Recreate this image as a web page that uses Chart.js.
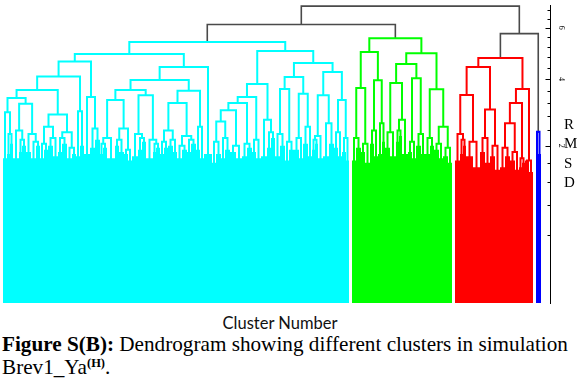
<!DOCTYPE html>
<html>
<head>
<meta charset="utf-8">
<script src="https://cdn.jsdelivr.net/npm/chart.js@4.4.1/dist/chart.umd.min.js"></script>
<style>
  html, body { margin: 0; padding: 0; background: #fff; }
  body { width: 578px; height: 385px; position: relative; overflow: hidden; }
  #wrap { position: absolute; left: 0; top: 0; width: 578px; height: 310px; }
  .xt { position: absolute; left: 180px; width: 200px; top: 315px; text-align: center;
        font-family: Lato, "Open Sans", sans-serif; font-size: 16.5px; line-height: 16px; color: #111; }
  .rmsd { position: absolute; left: 564px; top: 115px; font-family: "Liberation Serif", "Times New Roman", serif;
          font-size: 15px; line-height: 19.4px; color: #000; }
  .cap { position: absolute; left: 2px; top: 333px; width: 590px; font-family: "Liberation Serif", "Times New Roman", serif;
         font-size: 21.2px; line-height: 23px; color: #000; white-space: nowrap; }
  .cap sup { font-size: 12.5px; font-weight: bold; vertical-align: 7px; line-height: 0; }
</style>
</head>
<body>
<div id="wrap"><canvas id="c"></canvas></div>
<div class="xt">Cluster Number</div>
<div class="rmsd">R<br>M<br>S<br>D</div>
<div class="cap"><b>Figure S(B):</b> Dendrogram showing different clusters in simulation<br>Brev1_Ya<sup>(H)</sup>.</div>
<script>
// ---------------- DATA ----------------
// Trees: internal node = [left, right, mergeRMSD]; leaf group = [leafCount, topRMSD]
const cyanTree = [
  [
    [
      [
        [
          [[4,1.7],[[3,1.8],[3,2.05],2.3],2.92],
          [[[6,1.7],[[3,1.85],[4,2.0],2.15],2.4],[[5,1.85],[[5,1.7],[4,2.0],2.1],2.3],3.18],
          3.36
        ],
        [[[[4,1.7],[4,1.9],2.05],[[5,2.0],[5,1.75],2.2],2.5],[[[4,1.85],[5,2.05],2.2],[[5,1.7],[4,1.8],1.95],2.35],2.85],
        3.62
      ],
      [[4,1.75],[4,2.0],2.95],
      4.09
    ],
    [[6,1.8],[[5,1.95],[5,2.15],2.45],3.39],
    4.64
  ],
  [
    [
      [
        [[[[3,1.8],[4,1.95],2.05],[8,1.7],2.2],[[[4,2.0],[5,1.85],2.15],[[4,1.8],[4,1.65],1.9],2.45],3.3],
        [[[6,1.75],[[4,1.9],[4,2.1],2.2],2.3],[[7,1.7],[[3,1.85],[4,1.95],2.05],2.15],3.45],
        3.62
      ],
      [
        [[[[4,1.8],[4,1.95],2.1],[[5,2.0],[4,1.85],2.15],2.4],[[[5,1.7],[5,1.9],2.0],[[4,1.85],[5,2.05],2.15],2.25],3.2],
        [[4,1.9],[4,1.7],2.5],
        3.6
      ],
      3.97
    ],
    [8,1.8],
    4.43
  ],
  4.93
];
const cyanTreeRight = [
  [
    [
      [
        [
          [[[4,1.6],[5,1.8],2.1],[[4,1.7],[5,1.9],2.2],2.65],
          [[6,1.85],[6,1.7],2.0],
          2.98
        ],
        [[5,1.75],[5,1.95],2.05],
        3.2
      ],
      [[4,1.85],[5,1.7],2.15],
      3.39
    ],
    [[6,1.75],[[4,1.95],[4,2.2],2.35],2.7],
    3.83
  ],
  [
    [
      [[[5,1.75],[5,2.0],2.3],[[4,1.65],[5,1.9],2.1],3.66],
      [[[5,1.9],[4,1.7],2.2],[[5,2.05],[4,1.75],2.5],3.5],
      4.07
    ],
    [
      [[[[3,1.9],[3,2.05],2.15],[5,1.7],2.25],[[6,1.75],[5,2.05],2.6],3.45],
      [[[4,1.95],[4,1.75],2.35],[[4,1.85],[3,1.65],2.2],3.3],
      4.25
    ],
    4.58
  ],
  5.04
];
const cyanRootRMSD = 5.40;

const greenTree = [
  [
    [[[4,1.65],[5,1.95],2.2],[[4,1.85],[5,1.6],2.05],3.69],
    [[[4,2.05],[4,1.75],2.4],[[4,1.8],[3,2.1],2.6],3.96],
    5.0
  ],
  [
    [
      [[[5,1.95],[6,1.75],2.35],[[[3,2.1],[3,2.25],2.4],[6,1.8],2.7],3.86],
      [[[4,1.85],[4,1.7],2.1],[[5,2.0],[4,1.8],2.3],4.03],
      4.54
    ],
    [
      [[5,1.8],[4,2.0],2.2],
      [[[5,1.9],[4,1.7],2.05],[[5,1.75],[4,1.6],1.95],2.5],
      3.65
    ],
    4.96
  ],
  5.56
];

const redTree = [
  [
    [[[5,1.65],[[3,1.8],[3,2.0],2.15],2.3],[[7,1.75],[7,1.5],2.1],3.46],
    [[[5,1.85],[5,1.6],2.2],[[5,1.75],[5,1.45],2.0],3.0],
    4.43
  ],
  [
    [[[[5,1.5],[5,1.75],1.95],[[5,1.65],[4,1.45],1.85],2.6],[[3,1.5],[3,1.6],1.7],3.2],
    [[4,1.65],[4,1.4],1.65],
    3.66
  ],
  4.77
];

const blueTree = [[2,1.55],[3,1.8],2.36];

// upper (grey) merges: cyan+green, red+blue, root
const upperMerges = [6.14, 5.75, 6.97];

// RMSD axis
const rmsdTicks = [0.4,0.8,1.2,1.6,2.0,2.4,2.8,3.2,3.6,4.0,4.4,4.8,5.2,5.6,6.0,6.4,6.8];
const labeledTicks = [2, 4, 6];
const rmsdRange = [0.0012, 7.02];

// ---------------- STYLE / LAYOUT ----------------
const clusterColors = ['#00ffff', '#00ff00', '#ff0000', '#0000ff'];
const greyColor = '#4a4a4a';
const startLeaf = 3, clusterGap = 3, lineW = 2;

// --------------- sqrt RMSD scale -----------------
class SqrtScale extends Chart.LinearScale {
  static id = 'sqrt';
  buildTicks() { return rmsdTicks.map(v => ({ value: v })); }
  getPixelForValue(value) {
    if (value === null || value === undefined || isNaN(value)) return NaN;
    const a = Math.sqrt(this.min), b = Math.sqrt(this.max);
    return this.getPixelForDecimal((Math.sqrt(Math.max(0, value)) - a) / (b - a));
  }
  getValueForPixel(pixel) {
    const a = Math.sqrt(this.min), b = Math.sqrt(this.max);
    const s = a + this.getDecimalForPixel(pixel) * (b - a);
    return s * s;
  }
}
Chart.register(SqrtScale);

// --------------- layout of tree ------------------
let pos = startLeaf;
function place(node, out) {
  if (!Array.isArray(node[0])) {
    const x0 = pos, x1 = pos + node[0];
    pos = x1;
    out.blocks.push([x0, x1, node[1]]);
    return { x: (x0 + x1) / 2, h: node[1] };
  }
  const L = place(node[0], out), R = place(node[1], out);
  out.links.push([L.x, L.h, R.x, R.h, node[2]]);
  return { x: (L.x + R.x) / 2, h: node[2] };
}
function linkPoints(links) {
  const pts = [];
  for (const [xl, hl, xr, hr, h] of links) {
    pts.push({x: xl, y: hl}, {x: xl, y: h}, {x: xr, y: h}, {x: xr, y: hr}, {x: xr, y: null});
  }
  return pts;
}
function blockPoints(blocks) {
  const pts = [];
  for (const [x0, x1, h] of blocks) pts.push({x: x0, y: h}, {x: x1, y: h});
  return pts;
}

const fullTrees = [
  [cyanTree, cyanTreeRight, cyanRootRMSD],
  greenTree, redTree, blueTree
];
const roots = [];
const datasets = [];
fullTrees.forEach((tree, i) => {
  const out = { links: [], blocks: [] };
  const r = place(tree, out);
  roots.push(r);
  pos += clusterGap;
  datasets.push({
    data: linkPoints(out.links), borderColor: clusterColors[i], borderWidth: lineW,
    pointRadius: 0, fill: false, spanGaps: false, tension: 0,
    borderCapStyle: 'square', borderJoinStyle: 'miter'
  });
  datasets.push({
    data: blockPoints(out.blocks), borderColor: 'rgba(0,0,0,0)', borderWidth: 0,
    backgroundColor: clusterColors[i], pointRadius: 0, fill: 'origin', tension: 0
  });
});
const greyLinks = [];
const A = { x: (roots[0].x + roots[1].x) / 2, h: upperMerges[0] };
greyLinks.push([roots[0].x, roots[0].h, roots[1].x, roots[1].h, upperMerges[0]]);
const B = { x: (roots[2].x + roots[3].x) / 2, h: upperMerges[1] };
greyLinks.push([roots[2].x, roots[2].h, roots[3].x, roots[3].h, upperMerges[1]]);
greyLinks.push([A.x, A.h, B.x, B.h, upperMerges[2]]);
datasets.push({
  data: linkPoints(greyLinks), borderColor: greyColor, borderWidth: 1.6,
  pointRadius: 0, fill: false, spanGaps: false, tension: 0,
  borderCapStyle: 'square', borderJoinStyle: 'miter'
});

const axisTicks = {
  id: 'axisTicks',
  afterDraw(chart) {
    const s = chart.scales.y, ctx = chart.ctx, xA = s.left + 0.5;
    ctx.save();
    ctx.strokeStyle = '#000'; ctx.lineWidth = 1;
    for (const v of rmsdTicks) {
      const y = Math.round(s.getPixelForValue(v)) + 0.5;
      const len = labeledTicks.includes(v) ? 5 : 3;
      ctx.beginPath(); ctx.moveTo(xA - len, y); ctx.lineTo(xA, y); ctx.stroke();
    }
    ctx.fillStyle = '#000';
    ctx.font = '8px "Liberation Serif", serif';
    ctx.textAlign = 'center'; ctx.textBaseline = 'middle';
    for (const v of labeledTicks) {
      const y = s.getPixelForValue(v);
      ctx.save(); ctx.translate(xA + 11, y); ctx.rotate(Math.PI / 2);
      ctx.fillText(String(v), 0, 0); ctx.restore();
    }
    ctx.restore();
  }
};

new Chart(document.getElementById('c'), {
  type: 'line',
  data: { datasets },
  options: {
    responsive: true, maintainAspectRatio: false, animation: false,
    layout: { padding: { top: 5, bottom: 7, left: 0, right: 0 } },
    plugins: { legend: { display: false }, tooltip: { enabled: false } },
    events: [],
    scales: {
      x: { type: 'linear', min: 0, max: 550, display: false },
      y: {
        type: 'sqrt', position: 'right', min: rmsdRange[0], max: rmsdRange[1],
        grid: { display: true, drawOnChartArea: false, drawTicks: false, color: 'rgba(0,0,0,0)' },
        border: { display: true, color: '#000', width: 1 },
        ticks: { display: false },
        afterFit(s) { s.width = 28; }
      }
    }
  },
  plugins: [axisTicks]
});
</script>
</body>
</html>
